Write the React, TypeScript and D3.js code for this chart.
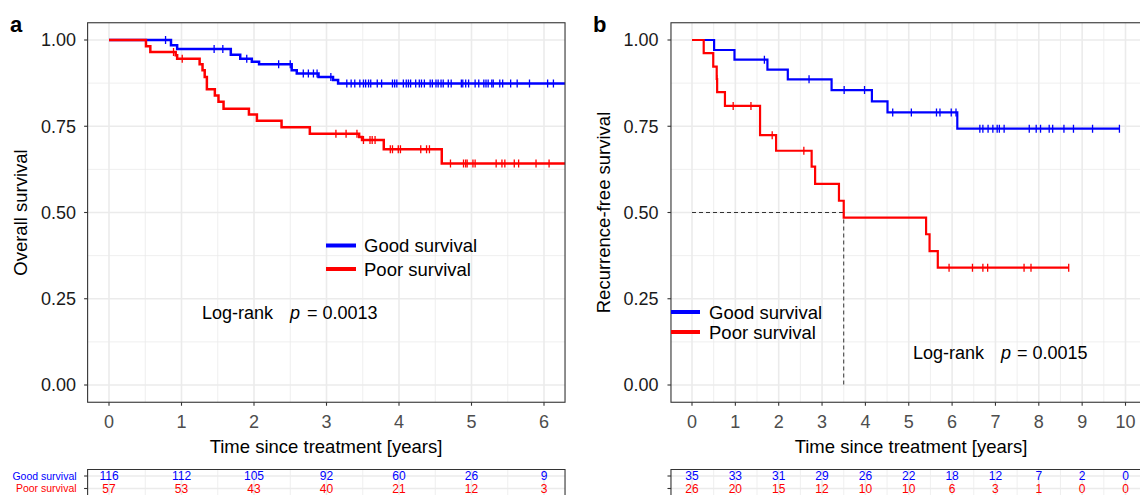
import React from "react";
import * as d3 from "d3";

// ---------- DATA ----------
// Panel a: overall survival (time in years, survival after event)
const osGoodEvents: [number, number][] = [
  [0.855, 0.985], [0.94, 0.974], [1.68, 0.957], [1.81, 0.946], [1.97, 0.937],
  [2.07, 0.93], [2.52, 0.912], [2.59, 0.903], [2.89, 0.893], [3.09, 0.884], [3.16, 0.874],
];
const osGoodCensor: number[] = [
  0.78, 1.45, 1.57, 1.9, 2.34, 2.5, 2.68, 2.75, 2.82, 2.87, 3.06, 3.28, 3.34, 3.39, 3.46,
  3.51, 3.54, 3.58, 3.61, 3.7, 3.76, 3.91, 3.94, 3.97, 4.06, 4.1, 4.13, 4.16, 4.23, 4.28,
  4.31, 4.35, 4.43, 4.46, 4.51, 4.54, 4.58, 4.61, 4.68, 4.72, 4.86, 4.88, 4.92, 4.96, 5.05,
  5.1, 5.17, 5.2, 5.23, 5.28, 5.3, 5.39, 5.43, 5.54, 5.63, 5.8, 6.05, 6.13,
];
const osGoodEnd = 6.6;
const osPoorEvents: [number, number][] = [
  [0.51, 0.982], [0.57, 0.965], [0.92, 0.956], [0.94, 0.946], [1.25, 0.93], [1.29, 0.912],
  [1.32, 0.893], [1.35, 0.857], [1.46, 0.839], [1.51, 0.821], [1.58, 0.801], [1.93, 0.784],
  [2.04, 0.766], [2.38, 0.747], [2.77, 0.728], [3.45, 0.719], [3.49, 0.71], [3.79, 0.683],
  [4.59, 0.642],
];
const osPoorCensor: number[] = [
  0.89, 1.01, 3.13, 3.27, 3.42, 3.51, 3.6, 3.63, 3.67, 3.88, 3.91, 3.99, 4.02, 4.3, 4.38,
  4.42, 4.71, 4.89, 4.92, 4.94, 5.02, 5.05, 5.34, 5.42, 5.46, 5.59, 5.65, 5.89, 6.07,
];
const osPoorEnd = 6.6;
const osTicks = [0, 1, 2, 3, 4, 5, 6];
const osRiskGood = [116, 112, 105, 92, 60, 26, 9];
const osRiskPoor = [57, 53, 43, 40, 21, 12, 3];

// Panel b: recurrence-free survival
const rfsGoodEvents: [number, number][] = [
  [0.51, 0.971], [0.98, 0.943], [1.74, 0.914], [2.21, 0.886], [3.22, 0.855],
  [4.15, 0.822], [4.51, 0.79], [6.12, 0.743],
];
const rfsGoodCensor: number[] = [
  1.67, 2.7, 3.51, 3.98, 4.63, 5.06, 5.64, 5.72, 5.98, 6.09, 6.64, 6.71, 6.83, 6.94, 7.04,
  7.09, 7.2, 7.78, 7.94, 8.04, 8.24, 8.32, 8.58, 8.8, 9.24, 9.86,
];
const rfsGoodEnd = 9.86;
const rfsPoorEvents: [number, number][] = [
  [0.27, 0.962], [0.49, 0.923], [0.57, 0.887], [0.58, 0.849], [0.76, 0.809], [1.57, 0.724],
  [1.94, 0.679], [2.76, 0.633], [2.84, 0.583], [3.39, 0.534], [3.5, 0.485], [5.4, 0.437],
  [5.48, 0.388], [5.67, 0.34],
];
const rfsPoorCensor: number[] = [0.575, 0.95, 1.36, 1.85, 2.58, 5.93, 6.47, 6.71, 6.82, 7.66, 7.82, 8.69];
const rfsPoorEnd = 8.69;
const rfsMedian = 3.5;
const rfsTicks = [0, 1, 2, 3, 4, 5, 6, 7, 8, 9, 10];
const rfsRiskGood = [35, 33, 31, 29, 26, 22, 18, 12, 7, 2, 0];
const rfsRiskPoor = [26, 20, 15, 12, 10, 10, 6, 3, 1, 0, 0];

const yTicks = [0, 0.25, 0.5, 0.75, 1];
const yTickLabels = ["0.00", "0.25", "0.50", "0.75", "1.00"];
const groupNames = ["Good survival", "Poor survival"];
const pValues = ["0.0013", "0.0015"];

// ---------- STYLE ----------
const FONT = "'Liberation Sans', Arial, Helvetica, sans-serif";
const BLUE = "#0000FF";
const RED = "#FF0000";
const GRID = "#EBEBEB";

function survAt(events: [number, number][], t: number) {
  let s = 1;
  for (const [et, es] of events) if (et <= t) s = es;
  return s;
}

type Curve = { events: [number, number][]; censor: number[]; end: number; color: string };

type PanelProps = {
  id: string;
  letter: string;
  letterX: number;
  xDomainPx: [number, number];
  ticks: number[];
  xLimits: [number, number];
  yTitle: string;
  yTitleX: number;
  yLabelX: number;
  xTitleX: number;
  curves: Curve[];
  lineW: number;
  legend: { lineX0: number; lineX1: number; textX: number; y: number[] };
  logrank: { x0: number; px: number; eqx: number; y: number; p: string };
  risk: { good: number[]; poor: number[]; showLabels: boolean };
  median?: number;
};

function Panel(props: PanelProps) {
  const { ticks } = props;
  const x = d3.scaleLinear().domain([ticks[0], ticks[ticks.length - 1]]).range(props.xDomainPx);
  const y = d3.scaleLinear().domain([0, 1]).range([385, 40]);
  const L = x(props.xLimits[0]);
  const R = x(props.xLimits[1]);
  const T = y(1.05);
  const B = y(-0.05);
  const line = d3
    .line<[number, number]>()
    .x((d) => x(d[0]))
    .y((d) => y(d[1]))
    .curve(d3.curveStepAfter);

  const minorX: number[] = [];
  for (let i = 0; i < ticks.length - 1; i++) minorX.push((ticks[i] + ticks[i + 1]) / 2);
  if (ticks[ticks.length - 1] + 0.5 < props.xLimits[1]) minorX.push(ticks[ticks.length - 1] + 0.5);
  const minorY = [0.125, 0.375, 0.625, 0.875];

  const riskTop = 469.5;
  const riskRows = [476, 488.5];

  return (
    <g>
      <defs>
        <clipPath id={`clip-${props.id}`}>
          <rect x={L} y={T} width={R - L} height={B - T} />
        </clipPath>
        <clipPath id={`clipr-${props.id}`}>
          <rect x={L} y={riskTop} width={R - L} height={40} />
        </clipPath>
      </defs>
      <text x={props.letterX} y={32} fontFamily={FONT} fontWeight="bold" fontSize={22} fill="#000">
        {props.letter}
      </text>
      {/* grid */}
      <g clipPath={`url(#clip-${props.id})`}>
        {minorY.map((v) => (
          <line key={"my" + v} x1={L} x2={R} y1={y(v)} y2={y(v)} stroke={GRID} strokeWidth={0.8} />
        ))}
        {minorX.map((v) => (
          <line key={"mx" + v} x1={x(v)} x2={x(v)} y1={T} y2={B} stroke={GRID} strokeWidth={0.8} />
        ))}
        {yTicks.map((v) => (
          <line key={"gy" + v} x1={L} x2={R} y1={y(v)} y2={y(v)} stroke={GRID} strokeWidth={1.6} />
        ))}
        {ticks.map((v) => (
          <line key={"gx" + v} x1={x(v)} x2={x(v)} y1={T} y2={B} stroke={GRID} strokeWidth={1.6} />
        ))}
      </g>
      {/* median dashed lines */}
      {props.median !== undefined && (
        <g stroke="#333" strokeWidth={1} strokeDasharray="4,3" fill="none">
          <line x1={x(0)} x2={x(props.median)} y1={y(0.5)} y2={y(0.5)} />
          <line x1={x(props.median)} x2={x(props.median)} y1={y(0.5)} y2={y(0)} />
        </g>
      )}
      {/* curves */}
      <g clipPath={`url(#clip-${props.id})`}>
        {props.curves.map((c, i) => {
          const pts: [number, number][] = [[0, 1], ...c.events];
          pts.push([c.end, survAt(c.events, c.end)]);
          return (
            <g key={i}>
              <path d={line(pts) || ""} fill="none" stroke={c.color} strokeWidth={props.lineW} />
              {c.censor.map((t, j) => (
                <line
                  key={j}
                  x1={x(t)}
                  x2={x(t)}
                  y1={y(survAt(c.events, t)) - 4}
                  y2={y(survAt(c.events, t)) + 4}
                  stroke={c.color}
                  strokeWidth={1.3}
                />
              ))}
            </g>
          );
        })}
      </g>
      {/* frame */}
      <rect x={L} y={T} width={R - L} height={B - T} fill="none" stroke="#333" strokeWidth={1.1} />
      {/* y axis */}
      {yTicks.map((v, i) => (
        <g key={"yt" + v}>
          <line x1={L - 3.5} x2={L} y1={y(v)} y2={y(v)} stroke="#333" strokeWidth={1.1} />
          <text
            x={props.yLabelX}
            y={y(v)}
            dy="0.36em"
            textAnchor="end"
            fontFamily={FONT}
            fontSize={18}
            fill="#1a1a1a"
          >
            {yTickLabels[i]}
          </text>
        </g>
      ))}
      <text
        transform={`translate(${props.yTitleX},${(T + B) / 2}) rotate(-90)`}
        textAnchor="middle"
        dy="0.36em"
        fontFamily={FONT}
        fontSize={18.5}
        fill="#000"
      >
        {props.yTitle}
      </text>
      {/* x axis */}
      {ticks.map((v) => (
        <g key={"xt" + v}>
          <line x1={x(v)} x2={x(v)} y1={B} y2={B + 3.5} stroke="#333" strokeWidth={1.1} />
          <text x={x(v)} y={428} textAnchor="middle" fontFamily={FONT} fontSize={18} fill="#4d4d4d">
            {v}
          </text>
        </g>
      ))}
      <text x={props.xTitleX} y={453} textAnchor="middle" fontFamily={FONT} fontSize={18.5} fill="#000">
        Time since treatment [years]
      </text>
      {/* legend */}
      {props.legend.y.map((ly, i) => (
        <g key={"lg" + i}>
          <line
            x1={props.legend.lineX0}
            x2={props.legend.lineX1}
            y1={ly}
            y2={ly}
            stroke={i === 0 ? BLUE : RED}
            strokeWidth={4}
          />
          <text x={props.legend.textX} y={ly} dy="0.36em" fontFamily={FONT} fontSize={18.5} fill="#000">
            {groupNames[i]}
          </text>
        </g>
      ))}
      {/* log-rank */}
      <text y={props.logrank.y} fontFamily={FONT} fontSize={18} fill="#000">
        <tspan x={props.logrank.x0}>Log-rank</tspan>
        <tspan x={props.logrank.px} fontStyle="italic">p</tspan>
        <tspan x={props.logrank.eqx}>{"= " + props.logrank.p}</tspan>
      </text>
      {/* risk table */}
      <g clipPath={`url(#clipr-${props.id})`}>
        {minorX.map((v) => (
          <line key={"rmx" + v} x1={x(v)} x2={x(v)} y1={riskTop} y2={500} stroke={GRID} strokeWidth={0.8} />
        ))}
        {ticks.map((v) => (
          <line key={"rgx" + v} x1={x(v)} x2={x(v)} y1={riskTop} y2={500} stroke={GRID} strokeWidth={1.6} />
        ))}
        {riskRows.map((ry) => (
          <line key={"rgy" + ry} x1={L} x2={R} y1={ry} y2={ry} stroke={GRID} strokeWidth={1.6} />
        ))}
      </g>
      <path d={`M${L},500 V${riskTop} H${R} V500`} fill="none" stroke="#333" strokeWidth={1.1} />
      {riskRows.map((ry, i) => (
        <g key={"rr" + i}>
          <line x1={L - 3.5} x2={L} y1={ry} y2={ry} stroke="#333" strokeWidth={1.1} />
          {props.risk.showLabels && (
            <text
              x={L - 11}
              y={ry}
              dy="0.36em"
              textAnchor="end"
              fontFamily={FONT}
              fontSize={10.5}
              fill={i === 0 ? BLUE : RED}
            >
              {groupNames[i]}
            </text>
          )}
          {(i === 0 ? props.risk.good : props.risk.poor).map((n, k) => (
            <text
              key={k}
              x={x(ticks[k])}
              y={ry}
              dy="0.36em"
              textAnchor="middle"
              fontFamily={FONT}
              fontSize={12}
              fill={i === 0 ? BLUE : RED}
            >
              {n}
            </text>
          ))}
        </g>
      ))}
    </g>
  );
}

export default function App() {
  return (
    <svg
      width={1140}
      height={495}
      viewBox="0 0 1140 495"
      style={{ position: "absolute", left: 0, top: 0, background: "#fff", display: "block" }}
    >
      <rect x={0} y={0} width={1140} height={495} fill="#fff" />
      <Panel
        id="a"
        letter="a"
        letterX={10}
        xDomainPx={[109, 544]}
        ticks={osTicks}
        xLimits={[-0.295, 6.29]}
        yTitle="Overall survival"
        yTitleX={20}
        yLabelX={76}
        xTitleX={326}
        curves={[
          { events: osGoodEvents, censor: osGoodCensor, end: osGoodEnd, color: BLUE },
          { events: osPoorEvents, censor: osPoorCensor, end: osPoorEnd, color: RED },
        ]}
        lineW={2.5}
        legend={{ lineX0: 326, lineX1: 356, textX: 364, y: [245.5, 269] }}
        logrank={{ x0: 202, px: 290, eqx: 307, y: 319, p: pValues[0] }}
        risk={{ good: osRiskGood, poor: osRiskPoor, showLabels: true }}
      />
      <Panel
        id="b"
        letter="b"
        letterX={593}
        xDomainPx={[692, 1125.5]}
        ticks={rfsTicks}
        xLimits={[-0.485, 10.6]}
        yTitle="Recurrence-free survival"
        yTitleX={603}
        yLabelX={658.5}
        xTitleX={911}
        curves={[
          { events: rfsGoodEvents, censor: rfsGoodCensor, end: rfsGoodEnd, color: BLUE },
          { events: rfsPoorEvents, censor: rfsPoorCensor, end: rfsPoorEnd, color: RED },
        ]}
        lineW={2.2}
        legend={{ lineX0: 671, lineX1: 700, textX: 709, y: [312, 332] }}
        logrank={{ x0: 913, px: 1001, eqx: 1017, y: 359, p: pValues[1] }}
        risk={{ good: rfsRiskGood, poor: rfsRiskPoor, showLabels: false }}
        median={rfsMedian}
      />
    </svg>
  );
}
